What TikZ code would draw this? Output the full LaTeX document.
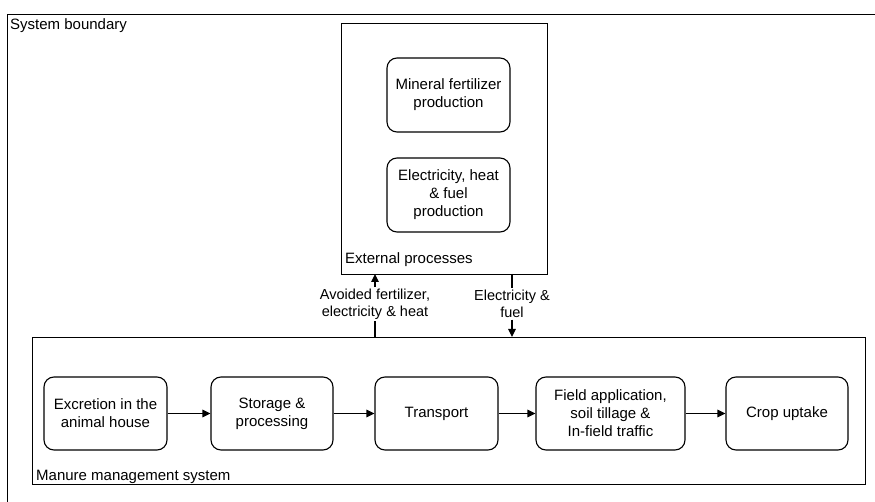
\documentclass[tikz,border=0pt]{standalone}
\usepackage{fontspec}
\setmainfont{Liberation Sans}
\usetikzlibrary{arrows.meta,positioning}
\begin{document}
\begin{tikzpicture}[x=1pt,y=-1pt,
  every node/.style={font=\fontsize{15}{18}\selectfont},
  frame/.style={draw, line width=1.1pt, inner sep=0pt},
  proc/.style={draw, line width=1.1pt, rounded corners=10pt, align=center, inner sep=0pt},
  lbl/.style={anchor=base west, inner sep=0pt},
  flow/.style={line width=1.1pt, -{Triangle[length=8pt,width=7.5pt]}},
  flowlbl/.style={align=center, inner sep=1.5pt, font=\fontsize{14.5}{17}\selectfont}]
\useasboundingbox (0,0) rectangle (875,502);
\clip (0,0) rectangle (875,502);
% outer system boundary (extends beyond picture edges)
\node[frame, minimum width=880pt, minimum height=500pt, anchor=north west] (sys) at (7,14) {};
\node[lbl] (systxt) at (10,30) {System boundary};
% external processes
\node[frame, minimum width=206pt, minimum height=251pt, anchor=north west] (ext) at (340.5,23) {};
\node[lbl] (exttxt) at (345,264) {External processes};
\node[proc, minimum width=123pt, minimum height=74pt] (mf) at (448.5,95) {Mineral fertilizer\\production};
\node[proc, minimum width=123pt, minimum height=74pt] (ehf) at (448.5,195) {Electricity, heat\\\& fuel\\production};
% manure management system
\node[frame, minimum width=833pt, minimum height=147pt, anchor=north west] (mms) at (32,337) {};
\node[lbl] (mmstxt) at (36,480) {Manure management system};
\node[proc, minimum width=123pt, minimum height=73pt] (b1) at (105.5,413.5) {Excretion in the\\animal house};
\node[proc, minimum width=122pt, minimum height=73pt] (b2) at (272,413.5) {Storage \&\\processing};
\node[proc, minimum width=123pt, minimum height=73pt] (b3) at (436.5,413.5) {Transport};
\node[proc, minimum width=149pt, minimum height=73pt] (b4) at (610.5,413.5) {Field application,\\soil tillage \&\\In-field traffic};
\node[proc, minimum width=122pt, minimum height=73pt] (b5) at (787,413.5) {Crop uptake};
\draw[flow] (b1) -- (b2);
\draw[flow] (b2) -- (b3);
\draw[flow] (b3) -- (b4);
\draw[flow] (b4) -- (b5);
% flows between systems
\coordinate (avIn) at (375,337);
\coordinate (avOut) at (375,274);
\coordinate (efIn) at (512,274);
\coordinate (efOut) at (512,337);
\node[flowlbl] (avtxt) at (375,304) {Avoided fertilizer,\\electricity \& heat};
\node[flowlbl] (eftxt) at (512,304) {Electricity \&\\fuel};
\draw[line width=1.1pt] (avIn) -- (avtxt.south);
\draw[flow] (avtxt.north) -- (avOut);
\draw[line width=1.1pt] (efIn) -- (eftxt.north);
\draw[flow] (eftxt.south) -- (efOut);
\end{tikzpicture}
\end{document}
